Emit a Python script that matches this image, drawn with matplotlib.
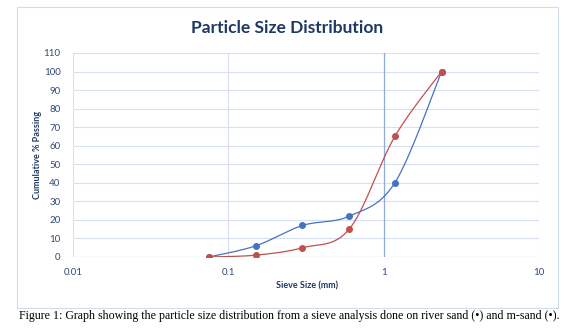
import matplotlib.pyplot as plt
from matplotlib.patches import Rectangle
import numpy as np

# sieve analysis data
sieve_mm = [0.075, 0.15, 0.3, 0.6, 1.18, 2.36]
river_sand = [0, 6, 17, 22, 40, 100]
m_sand = [0, 1, 5, 15, 65, 100]

x_ticks = [0.01, 0.1, 1, 10]
x_tick_labels = ["0.01", "0.1", "1", "10"]
y_ticks = list(range(0, 111, 10))

blue = "#4472C4"
red = "#C0504D"
dark = "#1F3864"
tick_col = "#2E4A7A"


def smooth(xs, ys, n=30):
    # Excel-like smoothed line: Catmull-Rom bezier in (log x, y)
    px = np.log10(np.array(xs, float))
    py = np.array(ys, float)
    m = len(px)
    out_x, out_y = [], []
    t = np.linspace(0, 1, n)
    for i in range(m - 1):
        i0 = max(i - 1, 0)
        i3 = min(i + 2, m - 1)
        c1x = px[i] + (px[i + 1] - px[i0]) / 6
        c1y = py[i] + (py[i + 1] - py[i0]) / 6
        c2x = px[i + 1] - (px[i3] - px[i]) / 6
        c2y = py[i + 1] - (py[i3] - py[i]) / 6
        bx = ((1 - t) ** 3 * px[i] + 3 * (1 - t) ** 2 * t * c1x
              + 3 * (1 - t) * t ** 2 * c2x + t ** 3 * px[i + 1])
        by = ((1 - t) ** 3 * py[i] + 3 * (1 - t) ** 2 * t * c1y
              + 3 * (1 - t) * t ** 2 * c2y + t ** 3 * py[i + 1])
        out_x.extend(bx)
        out_y.extend(by)
    return 10 ** np.array(out_x), np.array(out_y)


W, H = 577, 332
fig = plt.figure(figsize=(W / 100, H / 100), dpi=100)

# chart frame
fig.patches.append(Rectangle((17 / W, 1 - 308 / H), (558 - 17) / W, (308 - 7) / H,
                             transform=fig.transFigure, fill=False,
                             edgecolor="#D0DCEB", lw=0.8))

ax = fig.add_axes([73 / W, 1 - 257 / H, (539 - 73) / W, (257 - 53) / H])
ax.set_xscale("log")
ax.set_xlim(0.01, 10)
ax.set_ylim(0, 110)
ax.set_xticks(x_ticks)
ax.set_xticklabels(x_tick_labels)
ax.minorticks_off()
ax.set_yticks(y_ticks)
ax.grid(True, color="#D6E0F0", lw=0.8)
ax.set_axisbelow(True)
for s in ax.spines.values():
    s.set_visible(False)
ax.axhline(0, color="#C9D5E8", lw=0.8, zorder=1)
ax.axvline(1, color="#8FAADC", lw=0.9, zorder=1)
ax.tick_params(length=0, labelsize=7, labelcolor=tick_col, labelfontfamily="Lato")
ax.tick_params(axis="x", pad=8)
ax.tick_params(axis="y", pad=9)

sx, sy = smooth(sieve_mm, river_sand)
ax.plot(sx, sy, color=blue, lw=0.9, zorder=3)
ax.plot(sieve_mm, river_sand, "o", color=blue, ms=4, zorder=4)

sx, sy = smooth(sieve_mm, m_sand)
ax.plot(sx, sy, color=red, lw=0.9, zorder=3)
ax.plot(sieve_mm, m_sand, "o", color=red, ms=4, zorder=4)

fig.text(287 / W, 1 - 28 / H, "Particle Size Distribution", ha="center", va="center",
         fontsize=12.5, fontweight="bold", color=dark, family="Lato")
fig.text(307 / W, 1 - 286 / H, "Sieve Size (mm)", ha="center", va="center",
         fontsize=6.5, fontweight="bold", color=dark, family="Lato")
fig.text(37 / W, 1 - 155 / H, "Cumulative % Passing", ha="center", va="center",
         rotation=90, fontsize=6.5, fontweight="bold", color=dark, family="Lato")

fig.text(289 / W, 1 - 316 / H,
         "Figure 1: Graph showing the particle size distribution from a sieve analysis "
         "done on river sand (\u2022) and m-sand (\u2022).",
         ha="center", va="center", fontsize=8.6, color="black", family="Liberation Serif")

fig.savefig("out.png", dpi=100)
